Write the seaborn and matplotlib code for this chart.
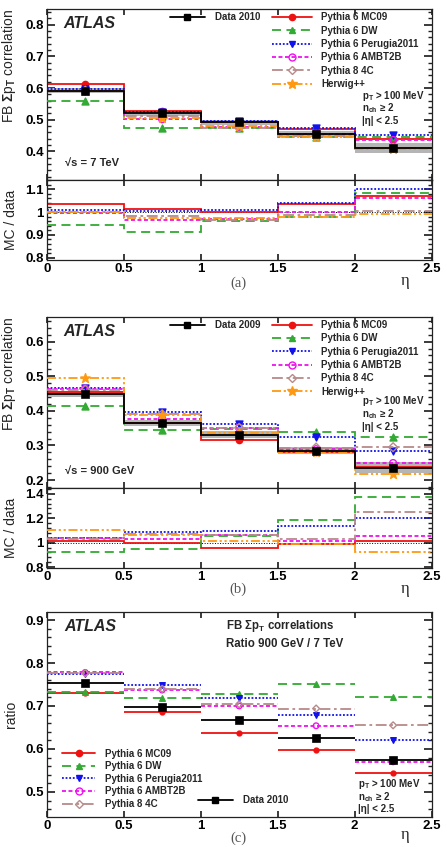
import matplotlib
matplotlib.use("Agg")
import matplotlib.pyplot as plt
import numpy as np
import seaborn as sns
from matplotlib.lines import Line2D
from matplotlib.ticker import MultipleLocator, FormatStrFormatter

# binning in eta
edges = [0, 0.5, 1.0, 1.5, 2.0, 2.5]
centers = [0.25, 0.75, 1.25, 1.75, 2.25]

# (a) 7 TeV
data_a = [0.592, 0.521, 0.492, 0.455, 0.411]
band_a = [0.008, 0.008, 0.008, 0.010, 0.015]
mc09_a = [0.613, 0.528, 0.492, 0.471, 0.439]
dw_a = [0.559, 0.475, 0.473, 0.446, 0.446]
per_a = [0.596, 0.524, 0.496, 0.473, 0.452]
ambt_a = [0.590, 0.502, 0.477, 0.456, 0.436]
p84c_a = [0.592, 0.511, 0.475, 0.450, 0.412]
hw_a = [0.592, 0.507, 0.479, 0.445, 0.407]

# (b) 900 GeV
data_b = [0.448, 0.365, 0.331, 0.285, 0.236]
band_b = [0.008, 0.008, 0.010, 0.010, 0.015]
mc09_b = [0.454, 0.365, 0.317, 0.281, 0.239]
dw_b = [0.413, 0.345, 0.349, 0.339, 0.325]
per_b = [0.466, 0.397, 0.362, 0.325, 0.283]
ambt_b = [0.464, 0.377, 0.351, 0.289, 0.249]
p84c_b = [0.461, 0.390, 0.351, 0.294, 0.295]
hw_b = [0.494, 0.388, 0.335, 0.281, 0.218]

# (c) ratio 900 GeV / 7 TeV
data_c = [0.754, 0.698, 0.668, 0.625, 0.575]
mc09_c = [0.731, 0.686, 0.638, 0.598, 0.544]
dw_c = [0.732, 0.719, 0.729, 0.750, 0.721]
per_c = [0.775, 0.748, 0.719, 0.678, 0.621]
ambt_c = [0.778, 0.737, 0.700, 0.654, 0.570]
p84c_c = [0.776, 0.740, 0.704, 0.694, 0.655]

names = ["Pythia 6 MC09", "Pythia 6 DW", "Pythia 6 Perugia2011",
         "Pythia 6 AMBT2B", "Pythia 8 4C", "Herwig++"]
colors = ["#ee1111", "#33aa33", "#1111ee", "#ee11ee", "#b88a8a", "#ff9911"]
dashes = [(None, None), (5, 3), (1, 1), (2.2, 1.4), (6, 2, 1.5, 2), (5, 1.5, 1.2, 1.5, 1.2, 1.5)]
markers = ["o", "^", "v", "o", "D", "*"]
filled = [True, True, True, False, False, True]
msizes = [4.5, 5, 5, 5, 4.5, 7]

sns.set_theme(style="ticks")
plt.rcParams["font.family"] = ["Liberation Sans", "DejaVu Sans"]
plt.rcParams["font.weight"] = "bold"
plt.rcParams["mathtext.fontset"] = "custom"
plt.rcParams["mathtext.rm"] = "Liberation Sans:bold"
plt.rcParams["mathtext.it"] = "Liberation Sans:bold:italic"
plt.rcParams["mathtext.bf"] = "Liberation Sans:bold"
plt.rcParams["axes.linewidth"] = 0.9

LW = 1.3
LEGFS = 7.0


def style_axis(ax, ylim, ymaj, ymin, xlabels=True):
    ax.set_xlim(0, 2.5)
    ax.set_ylim(*ylim)
    ax.xaxis.set_major_locator(MultipleLocator(0.5))
    ax.yaxis.set_major_locator(MultipleLocator(ymaj))
    ax.yaxis.set_minor_locator(MultipleLocator(ymin))
    ax.xaxis.set_major_formatter(FormatStrFormatter("%g"))
    ax.yaxis.set_major_formatter(FormatStrFormatter("%g"))
    ax.tick_params(which="both", direction="in", top=True, right=True,
                   labelsize=9.5, pad=2, colors="#222222", labelcolor="black")
    ax.tick_params(axis="y", which="major", length=6)
    ax.tick_params(axis="y", which="minor", length=3)
    ax.tick_params(axis="x", which="major", length=4)
    ax.tick_params(axis="x", which="minor", length=0)
    for lab in ax.get_xticklabels() + ax.get_yticklabels():
        lab.set_fontweight("bold")
    if not xlabels:
        ax.set_xticklabels([])
    for s in ax.spines.values():
        s.set_color("#222222")


def handle(i):
    return Line2D([0], [0], color=colors[i], lw=LW, dashes=dashes[i], marker=markers[i],
                  ms=msizes[i], mec=colors[i], mfc=colors[i] if filled[i] else "none", mew=1.0)


data_handle = Line2D([0], [0], color="black", lw=LW, marker="s", ms=4.5)


def main_panel(ax, data, band, mcs, datalabel, energy):
    lo = np.array(data) - np.array(band)
    hi = np.array(data) + np.array(band)
    ax.stairs(hi, edges, baseline=lo, fill=True, color="#b5b5b5", zorder=1)
    for i, vals in enumerate(mcs):
        st = ax.stairs(vals, edges, baseline=None, color=colors[i], lw=LW, zorder=2 + i)
        if dashes[i][0] is not None:
            st.set_linestyle((0, dashes[i]))
        sns.scatterplot(x=centers, y=vals, ax=ax, marker=markers[i], s=msizes[i] ** 2,
                        color=colors[i], edgecolor=colors[i], linewidth=1.0,
                        facecolor=colors[i] if filled[i] else "none", zorder=3 + i, legend=False)
    ax.stairs(data, edges, baseline=None, color="black", lw=LW, zorder=10)
    sns.scatterplot(x=centers, y=data, ax=ax, marker="s", s=30, color="black",
                    edgecolor="black", zorder=11, legend=False)
    leg1 = ax.legend([data_handle], [datalabel], loc="upper left", bbox_to_anchor=(0.32, 0.98),
                     frameon=False, fontsize=LEGFS, handlelength=3.6, handletextpad=1.0,
                     borderpad=0, borderaxespad=0)
    ax.add_artist(leg1)
    ax.legend([handle(i) for i in range(6)], names, loc="upper left",
              bbox_to_anchor=(0.585, 0.98), frameon=False, fontsize=LEGFS, handlelength=4.1,
              handletextpad=1.0, labelspacing=0.34, borderpad=0, borderaxespad=0)
    ax.text(0.042, 0.915, "ATLAS", transform=ax.transAxes, fontsize=11.5,
            fontweight="bold", fontstyle="italic", va="center")
    ax.text(0.048, 0.10, energy, transform=ax.transAxes, fontsize=8, va="center")
    ax.set_ylabel(r"FB $\Sigma$p$_\mathrm{T}$ correlation", fontsize=10, loc="top")
    ax.yaxis.set_label_coords(-0.074, 1.0)


def ratio_panel(ax, data, mcs):
    ax.axhline(1.0, color="black", lw=0.7, ls=":", zorder=1)
    for i, vals in enumerate(mcs):
        r = np.array(vals) / np.array(data)
        st = ax.stairs(r, edges, baseline=None, color=colors[i], lw=LW, zorder=2 + i)
        if dashes[i][0] is not None:
            st.set_linestyle((0, dashes[i]))
    ax.set_ylabel("MC / data", fontsize=10)
    ax.yaxis.set_label_coords(-0.074, 0.5)
    ax.text(0.93, -0.26, "η", transform=ax.transAxes, fontsize=12,
            family="Liberation Serif", fontweight="normal", ha="center", va="center")


def cuts(ax, x, y0, dy):
    ax.text(x, y0, r"p$_\mathrm{T}$ > 100 MeV", transform=ax.transAxes, fontsize=7, va="center")
    ax.text(x, y0 - dy, r"n$_\mathrm{ch}$ ≥ 2", transform=ax.transAxes, fontsize=7, va="center")
    ax.text(x, y0 - 2 * dy, "|η| < 2.5", transform=ax.transAxes, fontsize=7, va="center")


fig = plt.figure(figsize=(4.47, 8.47), dpi=100)
L, W = 0.1045, 0.861

# panel (a)
ax_a = fig.add_axes([L, 0.7875, W, 0.2019])
main_panel(ax_a, data_a, band_a, [mc09_a, dw_a, per_a, ambt_a, p84c_a, hw_a], "Data 2010", "√s = 7 TeV")
style_axis(ax_a, (0.31, 0.85), 0.1, 0.02, xlabels=False)
cuts(ax_a, 0.819, 0.492, 0.074)
ax_ar = fig.add_axes([L, 0.693, W, 0.0945])
ratio_panel(ax_ar, data_a, [mc09_a, dw_a, per_a, ambt_a, p84c_a, hw_a])
style_axis(ax_ar, (0.79, 1.14), 0.1, 0.02)

# panel (b)
ax_b = fig.add_axes([L, 0.4242, W, 0.2019])
main_panel(ax_b, data_b, band_b, [mc09_b, dw_b, per_b, ambt_b, p84c_b, hw_b], "Data 2009", "√s = 900 GeV")
style_axis(ax_b, (0.178, 0.672), 0.1, 0.02, xlabels=False)
cuts(ax_b, 0.819, 0.505, 0.074)
ax_br = fig.add_axes([L, 0.329, W, 0.0952])
ratio_panel(ax_br, data_b, [mc09_b, dw_b, per_b, ambt_b, p84c_b, hw_b])
style_axis(ax_br, (0.79, 1.45), 0.2, 0.04)

# panel (c)
ax_c = fig.add_axes([L, 0.0351, W, 0.242])
for i, vals in enumerate([mc09_c, dw_c, per_c, ambt_c, p84c_c]):
    ls = "solid" if dashes[i][0] is None else (0, dashes[i])
    ax_c.hlines(vals, edges[:-1], edges[1:], colors=colors[i], lw=LW, linestyles=[ls], zorder=2 + i)
    sns.scatterplot(x=centers, y=vals, ax=ax_c, marker=markers[i], s=(msizes[i] - 1) ** 2,
                    color=colors[i], edgecolor=colors[i], linewidth=1.0,
                    facecolor=colors[i] if filled[i] else "none", zorder=3 + i, legend=False)
ax_c.hlines(data_c, edges[:-1], edges[1:], colors="black", lw=LW, zorder=10)
sns.scatterplot(x=centers, y=data_c, ax=ax_c, marker="s", s=36, color="black",
                edgecolor="black", zorder=11, legend=False)
leg_c = ax_c.legend([handle(i) for i in range(5)], names[:5], loc="upper left",
                    bbox_to_anchor=(0.04, 0.335), frameon=False, fontsize=LEGFS, handlelength=3.4,
                    handletextpad=1.0, labelspacing=0.27, borderpad=0, borderaxespad=0)
ax_c.add_artist(leg_c)
ax_c.legend([data_handle], ["Data 2010"], loc="upper left", bbox_to_anchor=(0.393, 0.107),
            frameon=False, fontsize=LEGFS, handlelength=3.6, handletextpad=1.0,
            borderpad=0, borderaxespad=0)
ax_c.text(0.045, 0.93, "ATLAS", transform=ax_c.transAxes, fontsize=11.5,
          fontweight="bold", fontstyle="italic", va="center")
ax_c.text(0.466, 0.935, r"FB $\Sigma$p$_\mathrm{T}$ correlations", transform=ax_c.transAxes,
          fontsize=8.3, va="center")
ax_c.text(0.466, 0.845, "Ratio 900 GeV / 7 TeV", transform=ax_c.transAxes, fontsize=8.3, va="center")
cuts(ax_c, 0.809, 0.162, 0.062)
ax_c.set_ylabel("ratio", fontsize=10)
ax_c.yaxis.set_label_coords(-0.074, 0.5)
ax_c.text(0.93, -0.086, "η", transform=ax_c.transAxes, fontsize=12,
          family="Liberation Serif", fontweight="normal", ha="center", va="center")
style_axis(ax_c, (0.441, 0.918), 0.1, 0.02)

for lab, y in [("(a)", 283), ("(b)", 589), ("(c)", 838)]:
    fig.text(238 / 447, 1 - y / 847, lab, ha="center", va="center", fontsize=10.5,
             family="Liberation Serif", fontweight="normal", color="#555555")

fig.savefig("out.png", dpi=100)
